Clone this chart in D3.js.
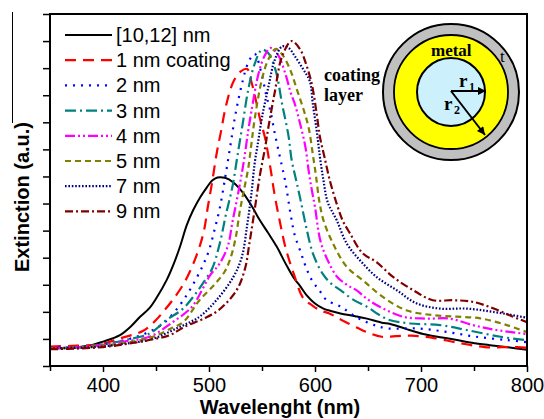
<!DOCTYPE html>
<html><head><meta charset="utf-8">
<script src="https://cdn.jsdelivr.net/npm/d3@7"></script>
<style>body{margin:0;background:#fff}svg{display:block}</style>
</head><body>
<svg id="c" width="544" height="419"></svg>
<script>
const xTicks = [400, 500, 600, 700, 800];
const xMinor = [350, 450, 550, 650, 750];
const yTicks = d3.range(0, 14);
const labels = ["[10,12] nm", "1 nm coating", "2 nm", "3 nm", "4 nm", "5 nm", "7 nm", "9 nm"];

const s0 = [[350,0.66],[370,0.68],[390,0.78],[400,0.9],[416,1.14],[426,1.45],[435,1.82],[444,2.15],[451,2.55],[460,3.17],[467,3.8],[473,4.45],[479,5.2],[485,5.75],[492,6.25],[498,6.6],[503,6.85],[508,6.96],[515,6.95],[523,6.78],[532,6.4],[541,5.86],[548,5.38],[556,4.9],[564,4.4],[572,3.8],[580,3.25],[586,2.95],[592,2.62],[600,2.31],[608,2.12],[615,2.03],[624,1.94],[638,1.84],[649,1.75],[663,1.6],[671,1.55],[685,1.38],[702,1.18],[720,1.05],[734,0.96],[748,0.86],[765,0.77],[780,0.7],[800,0.6]];
const s1 = [[350,0.72],[375,0.75],[397,0.8],[416,1.02],[438,1.3],[450,1.7],[458,2.06],[465,2.4],[477,3.1],[488,4.06],[495,4.95],[499,5.9],[503,6.8],[507,7.8],[511,8.6],[516,9.6],[523,10.5],[530,10.88],[536,10.97],[540,10.5],[544,9.85],[548,9.15],[553,8.4],[558,7.3],[562,6.3],[567,5.3],[572,4.4],[580,3.4],[589,2.5],[597,2.25],[605,2.05],[613,1.95],[625,1.7],[641,1.39],[652,1.2],[663,1.08],[676,1.1],[691,1.12],[710,1.05],[735,0.86],[760,0.7],[785,0.7],[800,0.68]];
const s2 = [[350,0.68],[380,0.7],[400,0.8],[420,0.95],[440,1.2],[457,1.57],[470,2.12],[479,2.62],[488,3.23],[495,3.78],[500,4.27],[505,5.0],[510,5.8],[515,6.9],[520,8.1],[525,9.3],[531,10.4],[537,11.2],[543,11.53],[550,10.72],[554,10.0],[558,9.4],[562,8.6],[567,7.7],[572,6.8],[577,5.6],[581,4.82],[587,4.15],[591,3.7],[597,3.17],[604,2.8],[611,2.43],[624,2.2],[637,1.85],[652,1.57],[668,1.39],[696,1.39],[724,1.26],[752,1.08],[781,0.96],[800,0.88]];
const s3 = [[350,0.65],[380,0.7],[400,0.8],[420,0.95],[444,1.2],[460,1.7],[475,2.1],[486,2.6],[495,3.1],[503,3.6],[510,4.5],[516,5.6],[522,6.6],[527,7.8],[532,9.0],[537,10.2],[543,11.15],[550,11.68],[556,11.55],[563,10.9],[569,9.67],[575,8.5],[578,7.6],[582,6.9],[586,6.2],[591,5.26],[598,4.16],[607,3.42],[615,3.05],[624,2.8],[636,2.45],[649,2.19],[660,1.9],[671,1.69],[690,1.57],[718,1.51],[743,1.33],[775,1.08],[800,0.95]];
const s4 = [[350,0.65],[380,0.7],[400,0.78],[420,0.9],[445,1.1],[465,1.6],[484,2.19],[494,2.85],[501,3.35],[510,3.78],[518,4.46],[522,5.3],[528,6.48],[533,7.6],[537,8.69],[540,9.4],[547,10.84],[553,11.5],[558,11.75],[565,11.5],[572,10.8],[577,10.1],[581,9.67],[586,8.94],[591,8.08],[594,7.22],[597,6.5],[600,5.87],[605,4.64],[612,3.9],[621,3.29],[630,3.0],[639,2.8],[650,2.45],[661,2.19],[683,1.82],[705,1.75],[727,1.75],[749,1.51],[771,1.33],[800,1.18]];
const s5 = [[350,0.65],[380,0.68],[400,0.75],[420,0.85],[445,1.05],[465,1.4],[476,1.63],[491,2.43],[505,3.0],[515,3.5],[520,3.95],[525,4.7],[529,5.7],[533,6.5],[537,7.3],[540,8.2],[543,9.1],[550,10.6],[556,11.32],[563,11.71],[570,11.45],[577,10.9],[583,10.2],[589,9.5],[594,8.8],[598,7.8],[601,7.0],[604,6.1],[608,5.38],[617,4.52],[630,3.66],[645,3.17],[664,2.55],[686,2.06],[711,1.88],[734,1.82],[756,1.76],[781,1.51],[800,1.25]];
const s6 = [[350,0.65],[380,0.68],[400,0.72],[420,0.82],[445,0.98],[470,1.4],[491,1.82],[507,2.43],[523,3.29],[531,4.03],[536,5.2],[540,6.36],[543,7.46],[546.5,8.32],[550,9.18],[556,10.3],[562,11.3],[569,11.8],[575,11.75],[581,11.44],[589,10.95],[595,10.53],[598,9.67],[601.6,8.69],[604.7,7.71],[608,6.85],[612,6.05],[620.5,5.38],[630,4.52],[642.5,3.9],[658,3.29],[677,2.8],[696,2.31],[718,2.12],[743,2.12],[768,2.0],[800,1.78]];
const s7 = [[350,0.62],[380,0.65],[400,0.7],[420,0.8],[441,0.94],[463,1.14],[477,1.45],[495,1.75],[509,2.06],[526,2.8],[534,3.6],[538,4.5],[543,5.75],[548,7.04],[553,8.08],[556,8.81],[562,10.1],[569,11.44],[578,12.0],[586,11.69],[592,11.1],[597,10.41],[601.6,9.31],[604.7,8.45],[609,7.71],[614,6.85],[620.5,5.99],[626,5.38],[633,4.9],[645,4.16],[658,3.84],[673.6,3.29],[692.6,2.8],[711,2.43],[730,2.43],[749,2.37],[768,2.13],[785,1.85],[800,1.62]];

const series = [s0, s1, s2, s3, s4, s5, s6, s7];
const colors = ["#000000", "#ff0000", "#0000ff", "#008080", "#ff00ff", "#808000", "#000080", "#800000"];
const dashes = ["", "11,7", "2,6", "11,4,2,4", "10,3,2,3,2,3", "6,4", "1.6,1.8", "8,3,2,3"];

const svg = d3.select("#c");
const L = 50, R = 527, T = 14, B = 366;
const x = d3.scaleLinear().domain([350, 800]).range([L, R]);
const y = d3.scaleLinear().domain([0, 13]).range([B, T]);

svg.append("defs").append("clipPath").attr("id", "clip")
  .append("rect").attr("x", L).attr("y", T).attr("width", R - L).attr("height", B - T);

// stray scan line at far left
svg.append("line").attr("x1", 12.5).attr("x2", 12.5).attr("y1", 12).attr("y2", 123)
  .attr("stroke", "#000").attr("stroke-width", 1);

const line = d3.line().x(d => x(d[0])).y(d => y(d[1])).curve(d3.curveCatmullRom.alpha(0.5));
const g = svg.append("g").attr("clip-path", "url(#clip)");
series.forEach((s, i) => {
  g.append("path").datum(s).attr("d", line)
    .attr("fill", "none").attr("stroke", colors[i])
    .attr("stroke-width", i === 0 ? 2 : 2.2)
    .attr("stroke-dasharray", dashes[i] || null);
});

// axes
const ax = svg.append("g").attr("transform", `translate(0,${B})`)
  .call(d3.axisBottom(x).tickValues(xTicks).tickSize(6).tickPadding(6));
ax.select(".domain").remove();
ax.selectAll("text").attr("font-family", "Liberation Sans, Arial, sans-serif").attr("font-size", 20).attr("fill", "#000");
ax.selectAll("line").attr("stroke-width", 1.5);
const axm = svg.append("g").attr("transform", `translate(0,${B})`)
  .call(d3.axisBottom(x).tickValues(xMinor).tickSize(5).tickFormat(""));
axm.select(".domain").remove();
axm.selectAll("line").attr("stroke-width", 1.5);

const ay = svg.append("g").attr("transform", `translate(${L},0)`)
  .call(d3.axisLeft(y).tickValues(yTicks).tickSize(7).tickFormat(""));
ay.select(".domain").remove();
ay.selectAll("line").attr("stroke-width", 1.5);

svg.append("rect").attr("x", L).attr("y", T).attr("width", R - L).attr("height", B - T)
  .attr("fill", "none").attr("stroke", "#000").attr("stroke-width", 2);

svg.append("text").attr("x", 280).attr("y", 414).attr("text-anchor", "middle")
  .attr("font-family", "Liberation Sans, Arial, sans-serif").attr("font-weight", "bold").attr("font-size", 20)
  .text("Wavelenght (nm)");
svg.append("text").attr("transform", "translate(28.5,197) rotate(-90)").attr("text-anchor", "middle")
  .attr("font-family", "Liberation Sans, Arial, sans-serif").attr("font-weight", "bold").attr("font-size", 20)
  .text("Extinction (a.u.)");

// legend
const lg = svg.append("g");
labels.forEach((t, i) => {
  const yy = 35 + i * 25.2;
  lg.append("line").attr("x1", 65).attr("x2", 112).attr("y1", yy).attr("y2", yy)
    .attr("stroke", colors[i]).attr("stroke-width", i === 0 ? 2 : 2.2)
    .attr("stroke-dasharray", dashes[i] || null);
  lg.append("text").attr("x", 116).attr("y", yy + 7)
    .attr("font-family", "Liberation Sans, Arial, sans-serif").attr("font-size", 20).text(t);
});

// inset
const cx = 451, cy = 92;
const ins = svg.append("g");
ins.append("circle").attr("cx", cx).attr("cy", cy).attr("r", 68).attr("fill", "#c0c0c0").attr("stroke", "#000").attr("stroke-width", 2);
ins.append("circle").attr("cx", cx).attr("cy", cy).attr("r", 57).attr("fill", "#ffff00").attr("stroke", "#000").attr("stroke-width", 1.8);
ins.append("circle").attr("cx", cx).attr("cy", cy).attr("r", 34).attr("fill", "#ccf0fc").attr("stroke", "#000").attr("stroke-width", 2);
const defs = svg.select("defs");
defs.append("marker").attr("id", "ah").attr("viewBox", "0 0 10 10").attr("refX", 10).attr("refY", 5)
  .attr("markerWidth", 10).attr("markerHeight", 8).attr("markerUnits", "userSpaceOnUse").attr("orient", "auto")
  .append("path").attr("d", "M0,0 L10,5 L0,10 Z").attr("fill", "#000");
ins.append("line").attr("x1", cx).attr("y1", cy - 1).attr("x2", cx + 35).attr("y2", cy - 1)
  .attr("stroke", "#000").attr("stroke-width", 2).attr("marker-end", "url(#ah)");
ins.append("line").attr("x1", cx).attr("y1", cy - 1).attr("x2", cx + 34).attr("y2", cy + 43)
  .attr("stroke", "#000").attr("stroke-width", 2).attr("marker-end", "url(#ah)");
const serif = "Liberation Serif, Times New Roman, serif";
function stxt(xx, yy, t, size, bold) {
  return ins.append("text").attr("x", xx).attr("y", yy).attr("font-family", serif)
    .attr("font-size", size).attr("font-weight", bold ? "bold" : "normal").text(t);
}
stxt(431, 56, "metal", 17, true);
stxt(500, 62, "t", 17, false);
stxt(459, 87, "r", 19, true);
stxt(469, 91, "1", 12, true);
stxt(444, 110, "r", 19, true);
stxt(454, 114, "2", 12, true);
stxt(324, 81, "coating", 18, true);
stxt(324, 101, "layer", 18, true);
</script>
</body></html>
